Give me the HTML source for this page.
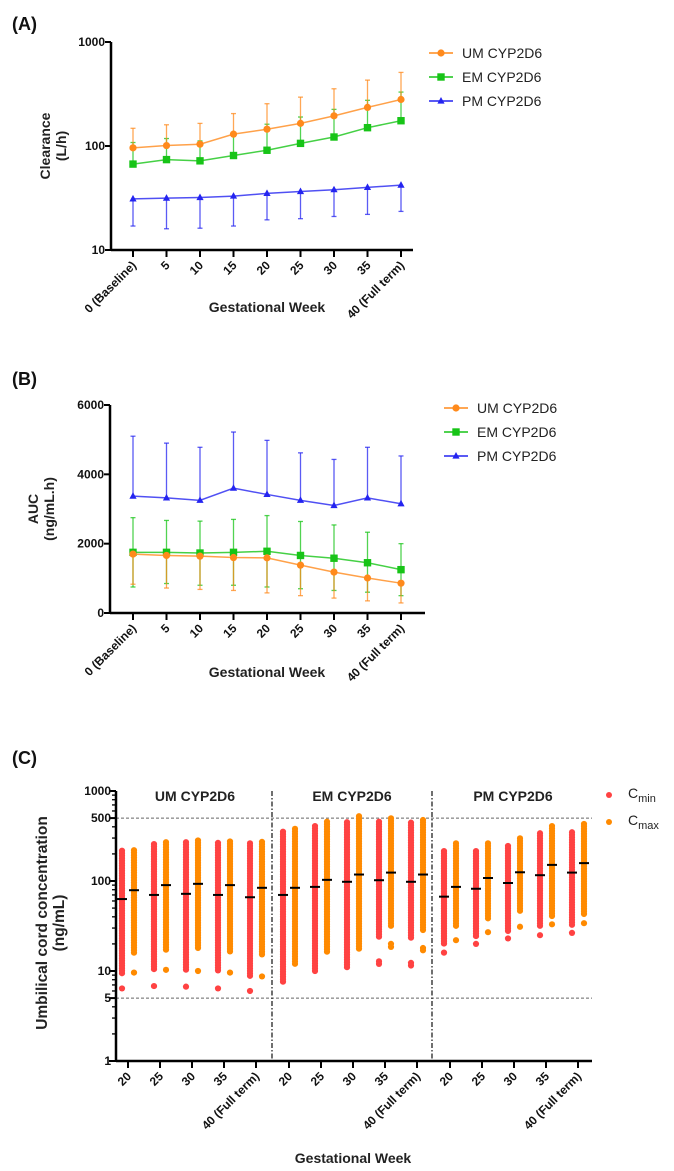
<!DOCTYPE html>
<html><head><meta charset="utf-8">
<style>
html,body{margin:0;padding:0;background:#fff;}
svg{display:block;font-family:"Liberation Sans",Arial,sans-serif;}
.tk{font-size:12px;font-weight:bold;fill:#111;}
.ttl{font-size:14px;font-weight:bold;fill:#222;}
.lg{font-size:14px;fill:#222;}
.pl{font-size:18px;font-weight:bold;fill:#111;}
</style></head>
<body>
<svg id="fig" width="674" height="1171" viewBox="0 0 674 1171">
<text x="12" y="30" class="pl">(A)</text>
<text x="12" y="385" class="pl">(B)</text>
<text x="12" y="764" class="pl">(C)</text>
<g id="pa"></g>
<g id="pb"></g>
<g id="pc"></g>
</svg>
<script>
// ---------- data ----------
const weeks = ["0 (Baseline)","5","10","15","20","25","30","35","40 (Full term)"];
const clUM = [96,101,104,130,145,165,195,235,280];
const clUMup = [148,160,165,205,255,295,355,430,510];
const clEM = [67,74,72,81,91,106,122,150,175];
const clEMup = [108,118,112,128,162,190,225,275,330];
const clPM = [31,31.5,32,33,35,36.5,38,40,42];
const clPMlo = [17,16,16.2,17,19.5,20,21,22,23.5];
const aucUM = [1700,1660,1640,1600,1590,1380,1180,1010,860];
const aucUMlo = [830,720,680,650,580,500,430,350,290];
const aucEM = [1750,1750,1730,1750,1780,1660,1580,1450,1250];
const aucEMup = [2750,2670,2650,2700,2810,2640,2540,2330,2000];
const aucEMlo = [750,850,800,800,750,700,650,600,500];
const aucPM = [3370,3320,3250,3600,3420,3250,3100,3320,3150];
const aucPMup = [5100,4900,4780,5220,4980,4620,4430,4780,4530];
const clTicks = [10,100,1000];
const aucTicks = [0,2000,4000,6000];
// Panel C
const groups = ["UM  CYP2D6","EM  CYP2D6","PM  CYP2D6"];
const cWeeks = ["20","25","30","35","40 (Full term)"];
const cminMed = [63,70,72,70,66, 70,86,98,102,98, 67,82,95,116,124];
const cmaxMed = [79,90,93,90,84, 84,103,118,124,118, 86,108,125,151,158];
const cminHi = [217,257,270,265,262, 353,408,450,456,445, 215,215,245,339,348];
const cminLo = [9,10,9.9,9.6,8.8, 7.3,9.6,10.8,24,23, 19.5,24,27,30,31];
const cminOut = [[6.4],[6.8],[6.7],[6.4],[6.0], [],[],[],[12,12.8],[11.5,12.3], [16],[20],[23],[25],[26.5]];
const cmaxHi = [220,270,282,275,272, 380,456,525,497,476, 262,262,298,408,430];
const cmaxLo = [16,17,17,16,15, 12,16,17,31,28, 31,38,44,40,42];
const cmaxOut = [[9.6],[10.3],[10],[9.6],[8.7], [],[],[],[18.5,20],[17,18], [22],[27],[31],[33],[34]];
const cTicks = [1,5,10,100,500,1000];

const NS="http://www.w3.org/2000/svg";
function mk(parent,tag,attrs,txt){const e=document.createElementNS(NS,tag);for(const k in attrs)e.setAttribute(k,attrs[k]);if(txt!==undefined)e.textContent=txt;parent.appendChild(e);return e;}

const C_OR="#ff8a1c", C_GR="#17c417", C_BL="#2424f0";

function xAxisCat(g,xs,y0,x0,x1,labels,prefix){
  const ax=mk(g,'line',{x1:x0,y1:y0,x2:x1,y2:y0,stroke:'#000','stroke-width':2.5});
  
  
  labels.forEach((l,i)=>{
    const x=xs(i);
    mk(g,'line',{x1:x,y1:y0,x2:x,y2:y0+7,stroke:'#000','stroke-width':2});
    const t=mk(g,'text',{x:x+4,y:y0+16,'text-anchor':'end',class:'tk',transform:`rotate(-45 ${x+4} ${y0+16})`},l);
    
    
  });
}
function marker(g,type,x,y,col){
  let m;
  if(type==='c') m=mk(g,'circle',{cx:x,cy:y,r:3.6,fill:col});
  else if(type==='s') m=mk(g,'rect',{x:x-3.7,y:y-3.7,width:7.4,height:7.4,fill:col});
  else m=mk(g,'polygon',{points:`${x},${y-4} ${x-3.6},${y+2.6} ${x+3.6},${y+2.6}`,fill:col});
  return m;
}
function errbar(g,x,y1,y2,col){
  mk(g,'line',{x1:x,y1:y1,x2:x,y2:y2,stroke:col,'stroke-width':1.3,'stroke-opacity':0.75});
  mk(g,'line',{x1:x-2.5,y1:y2,x2:x+2.5,y2:y2,stroke:col,'stroke-width':1.3,'stroke-opacity':0.75});
}
function series(g,name,vals,xs,ys,col,type,up,lo){
  const s=mk(g,'g',{});
  
  
  if(up) vals.forEach((v,i)=>errbar(s,xs(i),ys(v),ys(up[i]),col));
  if(lo) vals.forEach((v,i)=>errbar(s,xs(i),ys(v),ys(lo[i]),col));
  mk(s,'polyline',{points:vals.map((v,i)=>xs(i)+','+ys(v)).join(' '),fill:'none',stroke:col,'stroke-width':1.5,'stroke-opacity':0.8});
  vals.forEach((v,i)=>{const m=marker(s,type,xs(i),ys(v),col);
    
    });
}
function legend(g,x,y,entries){
  entries.forEach((e,i)=>{
    const lg=mk(g,'g',{});
    
    
    const yy=y+i*24;
    mk(lg,'line',{x1:x-12,y1:yy,x2:x+12,y2:yy,stroke:e[1],'stroke-width':1.5});
    marker(lg,e[2],x,yy,e[1]);
    mk(lg,'text',{x:x+21,y:yy+5,class:'lg'},e[0]);
  });
}

// ---------- Panel A ----------
(function(){
  const g=document.getElementById('pa');
  const X0=111,Y0=250,Ytop=42;
  const xs=i=>133+i*33.5;
  const ys=v=>Y0-(Math.log10(v)-1)/2*(Y0-Ytop);
  const ya=mk(g,'line',{x1:X0,y1:Ytop,x2:X0,y2:Y0,stroke:'#000','stroke-width':2.5});
  
  
  clTicks.forEach(t=>{const y=ys(t);mk(g,'line',{x1:X0-6,y1:y,x2:X0,y2:y,stroke:'#000','stroke-width':2});
    const tl=mk(g,'text',{x:X0-6,y:y+4,'text-anchor':'end',class:'tk'},t);
    
    });
  xAxisCat(g,xs,Y0,X0,413,weeks,'panel-a');
  const yt=mk(g,'text',{class:'ttl',transform:'translate(50,146) rotate(-90)','text-anchor':'middle'});
  
  
  mk(yt,'tspan',{x:0,dy:0},'Clearance');mk(yt,'tspan',{x:0,dy:16},'(L/h)');
  const xt=mk(g,'text',{x:267,y:312,'text-anchor':'middle',class:'ttl'},'Gestational  Week');
  
  
  series(g,'pm-series',clPM,xs,ys,C_BL,'t',null,clPMlo);
  series(g,'em-series',clEM,xs,ys,C_GR,'s',clEMup,null);
  series(g,'um-series',clUM,xs,ys,C_OR,'c',clUMup,null);
  legend(g,441,53,[['UM CYP2D6',C_OR,'c'],['EM CYP2D6',C_GR,'s'],['PM CYP2D6',C_BL,'t']]);
})();

// ---------- Panel B ----------
(function(){
  const g=document.getElementById('pb');
  const X0=110,Y0=613,Ytop=405;
  const xs=i=>133+i*33.5;
  const ys=v=>Y0-v/6000*(Y0-Ytop);
  const ya=mk(g,'line',{x1:X0,y1:Ytop,x2:X0,y2:Y0,stroke:'#000','stroke-width':2.5});
  
  
  aucTicks.forEach(t=>{const y=ys(t);mk(g,'line',{x1:X0-6,y1:y,x2:X0,y2:y,stroke:'#000','stroke-width':2});
    const tl=mk(g,'text',{x:X0-6,y:y+4,'text-anchor':'end',class:'tk'},t);
    
    });
  xAxisCat(g,xs,Y0,X0,425,weeks,'panel-b');
  const yt=mk(g,'text',{class:'ttl',transform:'translate(38,509) rotate(-90)','text-anchor':'middle'});
  
  
  mk(yt,'tspan',{x:0,dy:0},'AUC');mk(yt,'tspan',{x:0,dy:16},'(ng/mL.h)');
  const xt=mk(g,'text',{x:267,y:677,'text-anchor':'middle',class:'ttl'},'Gestational  Week');
  
  
  series(g,'pm-series',aucPM,xs,ys,C_BL,'t',aucPMup,null);
  series(g,'em-series',aucEM,xs,ys,C_GR,'s',aucEMup,aucEMlo);
  series(g,'um-series',aucUM,xs,ys,C_OR,'c',null,aucUMlo);
  legend(g,456,408,[['UM CYP2D6',C_OR,'c'],['EM CYP2D6',C_GR,'s'],['PM CYP2D6',C_BL,'t']]);
})();

// ---------- Panel C ----------
(function(){
  const g=document.getElementById('pc');
  const X0=116,Y0=1061,Ytop=791,X1=592;
  const RED="#ff4242",ORG="#ff8a00";
  const xs=(k)=>128+Math.floor(k/5)*161+(k%5)*32;
  const ys=v=>Y0-Math.log10(v)/3*(Y0-Ytop);
  [500,5].forEach(v=>{const l=mk(g,'line',{x1:X0,y1:ys(v),x2:X1,y2:ys(v),stroke:'#666','stroke-width':1,'stroke-dasharray':'3,2'});
    
    });
  [272,432].forEach(x=>{const l=mk(g,'line',{x1:x,y1:Ytop,x2:x,y2:Y0,stroke:'#222','stroke-width':1.3,'stroke-dasharray':'5,2,1.5,2'});
    
    });
  const ya=mk(g,'line',{x1:X0,y1:Ytop,x2:X0,y2:Y0,stroke:'#000','stroke-width':2.5});
  
  
  for(let d=0;d<3;d++)for(let m=2;m<=9;m++){const y=ys(m*Math.pow(10,d));mk(g,'line',{x1:X0-4,y1:y,x2:X0,y2:y,stroke:'#000','stroke-width':1.3});}
  cTicks.forEach(t=>{const y=ys(t);mk(g,'line',{x1:X0-7,y1:y,x2:X0,y2:y,stroke:'#000','stroke-width':2});
    const tl=mk(g,'text',{x:X0-5,y:y+4,'text-anchor':'end',class:'tk'},t);
    
    });
  const ax=mk(g,'line',{x1:X0,y1:Y0,x2:X1,y2:Y0,stroke:'#000','stroke-width':2.5});
  
  
  for(let k=0;k<15;k++){const x=xs(k);mk(g,'line',{x1:x,y1:Y0,x2:x,y2:Y0+7,stroke:'#000','stroke-width':2});
    const t=mk(g,'text',{x:x+4,y:Y0+16,'text-anchor':'end',class:'tk',transform:`rotate(-45 ${x+4} ${Y0+16})`},cWeeks[k%5]);
    
    }
  [195,352,513].forEach((x,i)=>{const t=mk(g,'text',{x:x,y:801,'text-anchor':'middle',class:'ttl'},groups[i]);
    
    });
  function column(k,dx,hi,lo,outs,med,col,name){
    const cg=mk(g,'g',{});
    
    
    const x=xs(k)+dx, yt=ys(hi), yb=ys(lo);
    for(let y=yt;y<=yb+0.1;y+=2.5) mk(cg,'circle',{cx:x,cy:y,r:3.1,fill:col});
    outs.forEach(v=>mk(cg,'circle',{cx:x,cy:ys(v),r:3.1,fill:col}));
    const ml=mk(cg,'line',{x1:x-5,y1:ys(med),x2:x+5,y2:ys(med),stroke:'#000','stroke-width':2});
    
    
  }
  for(let k=0;k<15;k++){
    column(k,-6,cminHi[k],cminLo[k],cminOut[k],cminMed[k],RED,'cmin-column');
    column(k,6,cmaxHi[k],cmaxLo[k],cmaxOut[k],cmaxMed[k],ORG,'cmax-column');
  }
  const yt=mk(g,'text',{class:'ttl','font-size':'15.5',style:'font-size:15.5px',transform:'translate(47,923) rotate(-90)','text-anchor':'middle'});
  
  
  mk(yt,'tspan',{x:0,dy:0},'Umbilical cord concentration');mk(yt,'tspan',{x:0,dy:17},'(ng/mL)');
  const xt=mk(g,'text',{x:353,y:1163,'text-anchor':'middle',class:'ttl'},'Gestational  Week');
  
  
  [['min',RED,795],['max',ORG,822]].forEach(e=>{
    const lg=mk(g,'g',{});
    
    
    mk(lg,'circle',{cx:609,cy:e[2],r:3,fill:e[1]});
    const t=mk(lg,'text',{x:628,y:e[2]+3,class:'lg'},'C');
    mk(t,'tspan',{dy:4,'font-size':'11'},e[0]);
  });
})();
</script>
</body></html>
